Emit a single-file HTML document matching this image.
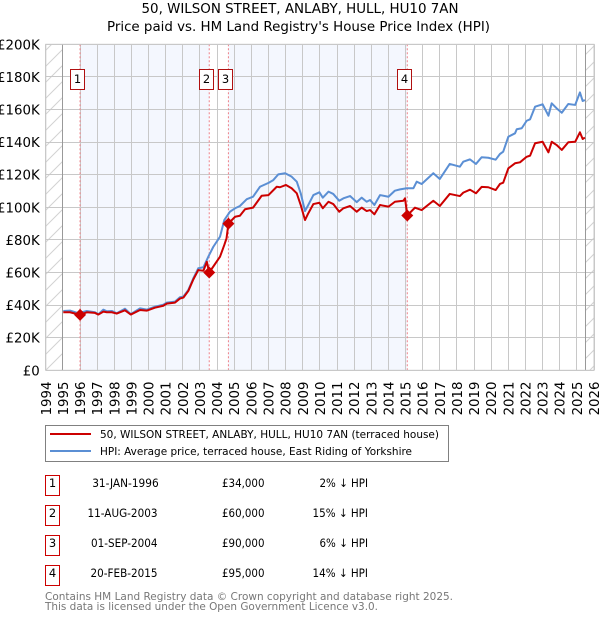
<!DOCTYPE html>
<html lang="en">
<head>
<meta charset="utf-8">
<title>50, Wilson Street house price chart</title>
<style>
html,body{margin:0;padding:0;background:#fff;width:600px;height:620px;overflow:hidden}
svg{display:block;font-family:"DejaVu Sans","Liberation Sans",sans-serif}
text{fill:#000}
</style>
</head>
<body>
<svg id="chart" width="600" height="620" viewBox="0 0 600 620" xmlns="http://www.w3.org/2000/svg">
  <defs>
    <pattern id="hatch" patternUnits="userSpaceOnUse" width="16" height="16">
      <path d="M-2 2L2 -2M0 16L16 0M14 18L18 14" stroke="#d2d2d2" stroke-width="1" fill="none"/>
    </pattern>
  </defs>
  <text x="300" y="13" text-anchor="middle" font-size="13.33" textLength="317" lengthAdjust="spacingAndGlyphs">50, WILSON STREET, ANLABY, HULL, HU10 7AN</text>
  <text x="298.5" y="31" text-anchor="middle" font-size="13.33" textLength="383" lengthAdjust="spacingAndGlyphs">Price paid vs. HM Land Registry's House Price Index (HPI)</text>

  <g id="plot"></g>

  <g>
    <rect x="45.5" y="425.5" width="403" height="36" fill="#fff" stroke="#808080" stroke-width="1"/>
    <line x1="50" x2="91" y1="434" y2="434" stroke="#cc0000" stroke-width="2"/>
    <text x="100" y="438" font-size="11" textLength="339" lengthAdjust="spacingAndGlyphs">50, WILSON STREET, ANLABY, HULL, HU10 7AN (terraced house)</text>
    <line x1="50" x2="91" y1="451" y2="451" stroke="#5b8fd4" stroke-width="2"/>
    <text x="100" y="455" font-size="11" textLength="312" lengthAdjust="spacingAndGlyphs">HPI: Average price, terraced house, East Riding of Yorkshire</text>
  </g>

  <g font-size="11.5">
    <g>
      <rect x="45.5" y="475.5" width="14" height="20" fill="#fff" stroke="#cc0000"/>
      <text x="52.5" y="487" text-anchor="middle">1</text>
      <text x="158.7" y="487" text-anchor="end" textLength="66.5" lengthAdjust="spacingAndGlyphs">31-JAN-1996</text>
      <text x="264.5" y="487" text-anchor="end" textLength="42.5" lengthAdjust="spacingAndGlyphs">£34,000</text>
      <text x="368" y="487" text-anchor="end" textLength="48.5" lengthAdjust="spacingAndGlyphs">2% ↓ HPI</text>
    </g>
    <g>
      <rect x="45.5" y="505.5" width="14" height="20" fill="#fff" stroke="#cc0000"/>
      <text x="52.5" y="517" text-anchor="middle">2</text>
      <text x="157.5" y="517" text-anchor="end" textLength="70" lengthAdjust="spacingAndGlyphs">11-AUG-2003</text>
      <text x="264.5" y="517" text-anchor="end" textLength="42.5" lengthAdjust="spacingAndGlyphs">£60,000</text>
      <text x="368" y="517" text-anchor="end" textLength="55.5" lengthAdjust="spacingAndGlyphs">15% ↓ HPI</text>
    </g>
    <g>
      <rect x="45.5" y="535.5" width="14" height="20" fill="#fff" stroke="#cc0000"/>
      <text x="52.5" y="547" text-anchor="middle">3</text>
      <text x="157.5" y="547" text-anchor="end" textLength="66.5" lengthAdjust="spacingAndGlyphs">01-SEP-2004</text>
      <text x="264.5" y="547" text-anchor="end" textLength="42.5" lengthAdjust="spacingAndGlyphs">£90,000</text>
      <text x="368" y="547" text-anchor="end" textLength="48.5" lengthAdjust="spacingAndGlyphs">6% ↓ HPI</text>
    </g>
    <g>
      <rect x="45.5" y="565.5" width="14" height="20" fill="#fff" stroke="#cc0000"/>
      <text x="52.5" y="577" text-anchor="middle">4</text>
      <text x="157.5" y="577" text-anchor="end" textLength="67" lengthAdjust="spacingAndGlyphs">20-FEB-2015</text>
      <text x="264.5" y="577" text-anchor="end" textLength="42.5" lengthAdjust="spacingAndGlyphs">£95,000</text>
      <text x="368" y="577" text-anchor="end" textLength="55.5" lengthAdjust="spacingAndGlyphs">14% ↓ HPI</text>
    </g>
  </g>

  <text x="45" y="600" font-size="11" style="fill:#777" textLength="408" lengthAdjust="spacingAndGlyphs">Contains HM Land Registry data © Crown copyright and database right 2025.</text>
  <text x="45" y="610" font-size="11" style="fill:#777" textLength="333" lengthAdjust="spacingAndGlyphs">This data is licensed under the Open Government Licence v3.0.</text>
</svg>
<script>
var yearTicks = [1994,1995,1996,1997,1998,1999,2000,2001,2002,2003,2004,2005,2006,2007,2008,2009,2010,2011,2012,2013,2014,2015,2016,2017,2018,2019,2020,2021,2022,2023,2024,2025,2026];
var valueTicks = [0,20,40,60,80,100,120,140,160,180,200];
var valueTickLabels = ["£0","£20K","£40K","£60K","£80K","£100K","£120K","£140K","£160K","£180K","£200K"];
var dataStartYear = 1995;
var dataEndYear = 2025.5;
var saleDates = [1996.0,2003.54,2004.66,2015.1];
var salePrices = [34,60,90,95];
var saleNumbers = ["1","2","3","4"];
var hpiDates = [1995.02,1995.41,1995.9,1996.39,1996.87,1997.07,1997.36,1997.56,1997.85,1998.14,1998.62,1998.96,1999.5,1999.89,2000.37,2000.86,2001.06,2001.54,2001.83,2002.03,2002.32,2002.61,2002.9,2003.2,2003.5,2003.78,2004.17,2004.42,2004.75,2005.05,2005.33,2005.73,2006.1,2006.5,2007,2007.28,2007.57,2007.97,2008.35,2008.65,2008.88,2009.13,2009.32,2009.62,2009.97,2010.17,2010.5,2010.78,2011.13,2011.37,2011.76,2012.15,2012.44,2012.73,2012.93,2013.18,2013.51,2014,2014.38,2014.68,2015.07,2015.46,2015.65,2015.94,2016.62,2017,2017.58,2018.17,2018.37,2018.76,2019.11,2019.44,2019.83,2020.26,2020.51,2020.7,2021,2021.39,2021.49,2021.78,2022.07,2022.27,2022.56,2023,2023.34,2023.53,2023.82,2024.12,2024.5,2024.9,2025.18,2025.34,2025.47];
var hpiValues = [36.4,36.6,35,36.4,35.6,34.4,37.2,36.2,36.4,35,37.8,34.5,38,37.2,39,40.2,41.5,42.1,44.8,45.2,49.3,56.4,62.6,63.2,70,75.8,82,92.2,97.3,99.4,100.8,105,106.5,112.6,115,116.7,120.2,120.9,118.8,115.7,108.6,97.7,101.4,107.5,109.2,105.9,109.6,108.2,104,105.5,106.9,103.2,105.9,103.4,104.5,101.4,107.5,106.5,110.2,111,111.7,111.7,115.7,114.3,120.9,117.4,126.6,124.9,128,129.4,126.6,130.7,130.4,129.2,132.7,134.1,143.3,145.4,147.9,148.5,153.1,154,161.7,163.2,156.2,163.8,160.7,158,163.4,162.8,170.5,165.2,165.8];
var paidDates = [1995.02,1995.41,1996.0,1996.39,1996.87,1997.07,1997.36,1997.56,1997.85,1998.14,1998.62,1998.96,1999.5,1999.89,2000.37,2000.86,2001.06,2001.54,2001.83,2002.03,2002.32,2002.61,2002.9,2003.2,2003.4,2003.54,2004.17,2004.42,2004.55,2004.66,2005.05,2005.33,2005.63,2006.1,2006.6,2007,2007.48,2007.67,2008.02,2008.35,2008.65,2008.88,2009.13,2009.32,2009.62,2009.97,2010.17,2010.5,2010.78,2011.13,2011.37,2011.76,2012.15,2012.44,2012.73,2012.93,2013.18,2013.51,2014,2014.38,2014.87,2014.97,2015.1,2015.55,2015.94,2016.62,2017,2017.58,2018.17,2018.37,2018.76,2019.11,2019.44,2019.83,2020.26,2020.51,2020.7,2021,2021.39,2021.68,2022.07,2022.27,2022.56,2023,2023.34,2023.53,2023.82,2024.12,2024.5,2024.9,2025.18,2025.34,2025.47];
var paidValues = [35.6,35.6,34,35.6,35.2,34.2,36,35.6,35.6,34.8,36.8,34.2,37,36.6,38.4,39.6,40.9,41.5,44,44.6,48.7,55.7,61.5,61.1,66.6,60,69.7,76.9,81,90,94.2,94.8,98.8,99.8,107.1,107.5,112.6,112.3,113.7,111.7,108.6,101.4,92.2,96.3,102,102.8,99.4,103.4,102,97.3,99.4,100.8,97.3,99.8,97.7,98.3,95.7,101.4,100.4,103.4,104,105.5,95,99.8,98.3,104,100.8,108.2,106.9,109,110.8,108.6,112.5,112.3,110.6,114.3,115.1,123.9,127,127.6,131,131.7,139.3,140.2,133.7,140.2,138.2,135.2,139.9,140.2,146,141.9,142.8];

var NS = "http://www.w3.org/2000/svg";
var plot = document.getElementById("plot");
var left = 45.8, right = 594, top_ = 44.3, bottom = 370.3;
function xScale(year){ return left + (year - yearTicks[0]) * (right - left) / (yearTicks[yearTicks.length-1] - yearTicks[0]); }
function yScale(v){ return bottom - (v - valueTicks[0]) * (bottom - top_) / (valueTicks[valueTicks.length-1] - valueTicks[0]); }
function snap(p){ return Math.floor(p) + 0.5; }
function make(tag, attrs){
  var el = document.createElementNS(NS, tag);
  for (var k in attrs) el.setAttribute(k, attrs[k]);
  plot.appendChild(el);
  return el;
}
function pathFrom(dates, values){
  var d = "";
  for (var i = 0; i < dates.length; i++) d += (i ? "L" : "M") + xScale(dates[i]).toFixed(2) + " " + yScale(values[i]).toFixed(2);
  return d;
}

var plotBg = make("rect", {x:left, y:top_, width:right-left, height:bottom-top_, fill:"#fff"});



var hatchLeft = make("rect", {x:left, y:top_, width:xScale(dataStartYear)-left, height:bottom-top_, fill:"url(#hatch)"});



var hatchRight = make("rect", {x:xScale(dataEndYear), y:top_, width:right-xScale(dataEndYear), height:bottom-top_, fill:"url(#hatch)"});



var bandA = make("rect", {x:xScale(saleDates[0]), y:top_, width:xScale(saleDates[1])-xScale(saleDates[0]), height:bottom-top_, fill:"#f4f7fe"});



var bandB = make("rect", {x:xScale(saleDates[2]), y:top_, width:xScale(saleDates[3])-xScale(saleDates[2]), height:bottom-top_, fill:"#f4f7fe"});



yearTicks.forEach(function(year){
  var gx = snap(xScale(year));
  var grid = make("line", {x1:gx, x2:gx, y1:top_, y2:bottom, stroke:"#c8c8c8", "stroke-width":1});
  
  
  var label = make("text", {transform:"translate(" + (xScale(year)+5) + " 381.5) rotate(-90)", "text-anchor":"end", "font-size":13.33});
  
  
  label.textContent = String(year);
});

valueTicks.forEach(function(v, i){
  var gy = snap(yScale(v));
  var grid = make("line", {x1:left, x2:right, y1:gy, y2:gy, stroke:"#c8c8c8", "stroke-width":1});
  
  
  var label = make("text", {x:39.7, y:yScale(v)+5, "text-anchor":"end", "font-size":13.33});
  
  
  label.textContent = valueTickLabels[i];
});

var startLine = make("line", {x1:snap(xScale(dataStartYear)), x2:snap(xScale(dataStartYear)), y1:top_, y2:bottom, stroke:"#999", "stroke-width":1});



var endLine = make("line", {x1:snap(xScale(dataEndYear)), x2:snap(xScale(dataEndYear)), y1:top_, y2:bottom, stroke:"#999", "stroke-width":1});



saleDates.forEach(function(date){
  var sx = xScale(date);
  var rule = make("line", {x1:sx, x2:sx, y1:top_, y2:bottom, stroke:"#ee8088", "stroke-width":1, "stroke-dasharray":"2 2"});
  
  
});

var hpiLine = make("path", {d:pathFrom(hpiDates, hpiValues), fill:"none", stroke:"#5b8fd4", "stroke-width":2, "stroke-linejoin":"round"});



var paidLine = make("path", {d:pathFrom(paidDates, paidValues), fill:"none", stroke:"#cc0000", "stroke-width":2, "stroke-linejoin":"round"});



saleDates.forEach(function(date, i){
  var sx = xScale(date), sy = yScale(salePrices[i]);
  var marker = make("path", {d:"M"+sx+" "+(sy-6)+"L"+(sx+6)+" "+sy+"L"+sx+" "+(sy+6)+"L"+(sx-6)+" "+sy+"Z", fill:"#cc0000"});
  
  
  var bx = Math.floor(sx - 10) + 0.5;
  var badge = make("rect", {x:bx, y:69.5, width:14, height:20, fill:"#fff", stroke:"#b01010", "stroke-width":1});
  
  
  var num = make("text", {x:bx+7, y:83, "text-anchor":"middle", "font-size":11.5});
  
  
  num.textContent = saleNumbers[i];
});

var frame = make("rect", {x:left, y:top_, width:right-left, height:bottom-top_, fill:"none", stroke:"#c8c8c8", "stroke-width":1});


</script>
</body>
</html>
